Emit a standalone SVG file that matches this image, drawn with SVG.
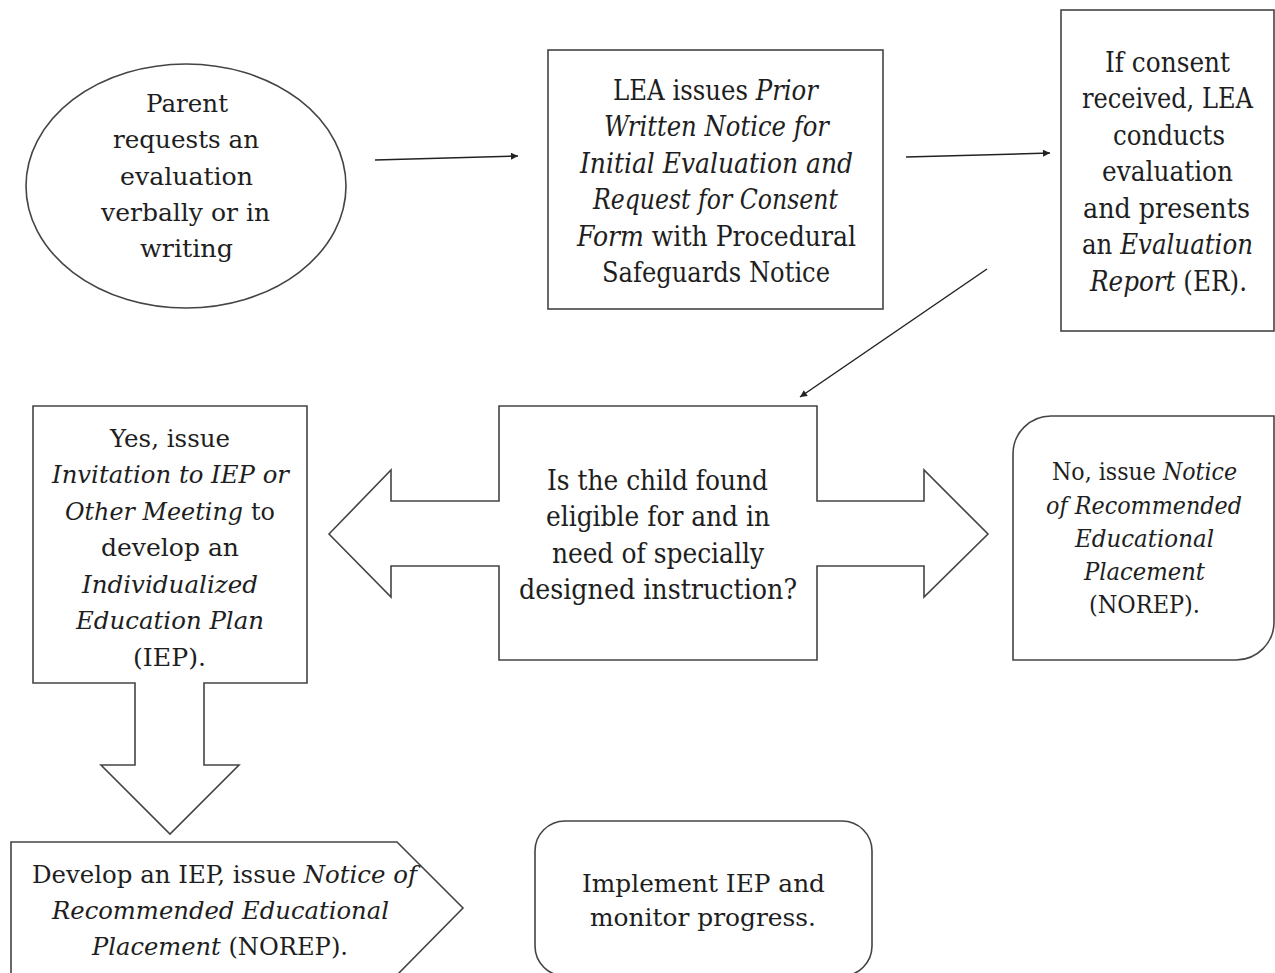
<svg xmlns="http://www.w3.org/2000/svg" width="1275" height="973" viewBox="0 0 1275 973">
<style>
.shape{fill:#fff;stroke:#444;stroke-width:1.6}
.conn{stroke:#222;stroke-width:1.5;fill:none}
text{fill:#1e1e1e;font-family:"DejaVu Serif","Liberation Serif",serif}
.w{font-size:25px}
.c{font-size:27px;font-family:"DejaVu Serif Condensed","DejaVu Serif","Liberation Serif",serif;font-stretch:condensed}
.s{font-size:24px;font-family:"DejaVu Serif Condensed","DejaVu Serif","Liberation Serif",serif;font-stretch:condensed}
.i{font-style:italic}
</style>
<defs>
<marker id="ah" viewBox="0 0 10 10" refX="10" refY="5" markerWidth="8" markerHeight="7" orient="auto" markerUnits="userSpaceOnUse">
<path d="M0,0 L10,5 L0,10 Z" fill="#222"/>
</marker>
</defs>
<rect width="1275" height="973" fill="#fff"/>

<g id="connectors">
<line class="conn" x1="375" y1="160" x2="518" y2="156" marker-end="url(#ah)"/>
<line class="conn" x1="906" y1="157" x2="1050" y2="153" marker-end="url(#ah)"/>
<line class="conn" x1="987" y1="269" x2="800" y2="397" marker-end="url(#ah)"/>
</g>

<g id="node-parent">
<ellipse class="shape" cx="186" cy="186" rx="160" ry="122"/>
<text class="w" x="146" y="112" textLength="82" lengthAdjust="spacingAndGlyphs">Parent</text>
<text class="w" x="113" y="148" textLength="146" lengthAdjust="spacingAndGlyphs">requests an</text>
<text class="w" x="120" y="185" textLength="133" lengthAdjust="spacingAndGlyphs">evaluation</text>
<text class="w" x="101" y="221" textLength="169" lengthAdjust="spacingAndGlyphs">verbally or in</text>
<text class="w" x="140" y="257" textLength="93" lengthAdjust="spacingAndGlyphs">writing</text>
</g>

<g id="node-lea">
<rect class="shape" x="548" y="50" width="335" height="259"/>
<text class="c" x="613" y="100" textLength="205" lengthAdjust="spacingAndGlyphs">LEA issues <tspan class="i">Prior</tspan></text>
<text class="c i" x="604" y="136" textLength="225" lengthAdjust="spacingAndGlyphs">Written Notice for</text>
<text class="c i" x="580" y="173" textLength="273" lengthAdjust="spacingAndGlyphs">Initial Evaluation and</text>
<text class="c i" x="593" y="209" textLength="245" lengthAdjust="spacingAndGlyphs">Request for Consent</text>
<text class="c" x="577" y="246" textLength="279" lengthAdjust="spacingAndGlyphs"><tspan class="i">Form</tspan> with Procedural</text>
<text class="c" x="602" y="282" textLength="228" lengthAdjust="spacingAndGlyphs">Safeguards Notice</text>
</g>

<g id="node-evaluation">
<rect class="shape" x="1061" y="10" width="213" height="321"/>
<text class="c" x="1105" y="72" textLength="125" lengthAdjust="spacingAndGlyphs">If consent</text>
<text class="c" x="1082" y="108" textLength="171" lengthAdjust="spacingAndGlyphs">received, LEA</text>
<text class="c" x="1113" y="145" textLength="112" lengthAdjust="spacingAndGlyphs">conducts</text>
<text class="c" x="1102" y="181" textLength="131" lengthAdjust="spacingAndGlyphs">evaluation</text>
<text class="c" x="1083" y="218" textLength="167" lengthAdjust="spacingAndGlyphs">and presents</text>
<text class="c" x="1082" y="254" textLength="171" lengthAdjust="spacingAndGlyphs">an <tspan class="i">Evaluation</tspan></text>
<text class="c" x="1090" y="291" textLength="157" lengthAdjust="spacingAndGlyphs"><tspan class="i">Report</tspan> (ER).</text>
</g>

<g id="node-eligible">
<polygon class="shape" points="329,534 391,470 391,501 499,501 499,406 817,406 817,501 924,501 924,470 988,534 924,597 924,566 817,566 817,660 499,660 499,566 391,566 391,597"/>
<text class="c" x="547" y="490" textLength="221" lengthAdjust="spacingAndGlyphs">Is the child found</text>
<text class="c" x="546" y="526" textLength="224" lengthAdjust="spacingAndGlyphs">eligible for and in</text>
<text class="c" x="552" y="563" textLength="212" lengthAdjust="spacingAndGlyphs">need of specially</text>
<text class="c" x="519" y="599" textLength="278" lengthAdjust="spacingAndGlyphs">designed instruction?</text>
</g>

<g id="node-yes">
<polygon class="shape" points="33,406 307,406 307,683 204,683 204,765 239,765 170,834 101,765 135,765 135,683 33,683"/>
<text class="w" x="110" y="447" textLength="120" lengthAdjust="spacingAndGlyphs">Yes, issue</text>
<text class="w i" x="52" y="483" textLength="237" lengthAdjust="spacingAndGlyphs">Invitation to IEP or</text>
<text class="w i" x="65" y="520" textLength="178" lengthAdjust="spacingAndGlyphs">Other Meeting</text>
<text class="w" x="251" y="520" textLength="24" lengthAdjust="spacingAndGlyphs">to</text>
<text class="w" x="101" y="556" textLength="138" lengthAdjust="spacingAndGlyphs">develop an</text>
<text class="w i" x="82" y="593" textLength="176" lengthAdjust="spacingAndGlyphs">Individualized</text>
<text class="w i" x="76" y="629" textLength="188" lengthAdjust="spacingAndGlyphs">Education Plan</text>
<text class="w" x="133" y="666" textLength="73" lengthAdjust="spacingAndGlyphs">(IEP).</text>
</g>

<g id="node-no">
<path class="shape" d="M1013,660 V454 A38,38 0 0 1 1051,416 H1274 V622 A38,38 0 0 1 1236,660 Z"/>
<text class="s" x="1052" y="480" textLength="185" lengthAdjust="spacingAndGlyphs">No, issue <tspan class="i">Notice</tspan></text>
<text class="s i" x="1046" y="514" textLength="196" lengthAdjust="spacingAndGlyphs">of Recommended</text>
<text class="s i" x="1075" y="547" textLength="139" lengthAdjust="spacingAndGlyphs">Educational</text>
<text class="s i" x="1084" y="580" textLength="121" lengthAdjust="spacingAndGlyphs">Placement</text>
<text class="s" x="1089" y="613" textLength="111" lengthAdjust="spacingAndGlyphs">(NOREP).</text>
</g>

<g id="node-develop">
<polygon class="shape" points="11,842 397,842 463,908 397,975 11,975"/>
<text class="w" x="32" y="883" textLength="385" lengthAdjust="spacingAndGlyphs">Develop an IEP, issue <tspan class="i">Notice of</tspan></text>
<text class="w i" x="52" y="919" textLength="337" lengthAdjust="spacingAndGlyphs">Recommended Educational</text>
<text class="w" x="92" y="955" textLength="256" lengthAdjust="spacingAndGlyphs"><tspan class="i">Placement</tspan> (NOREP).</text>
</g>

<g id="node-implement">
<rect class="shape" x="535" y="821" width="337" height="155" rx="30" ry="30"/>
<text class="w" x="582" y="892" textLength="243" lengthAdjust="spacingAndGlyphs">Implement IEP and</text>
<text class="w" x="590" y="926" textLength="226" lengthAdjust="spacingAndGlyphs">monitor progress.</text>
</g>
</svg>
